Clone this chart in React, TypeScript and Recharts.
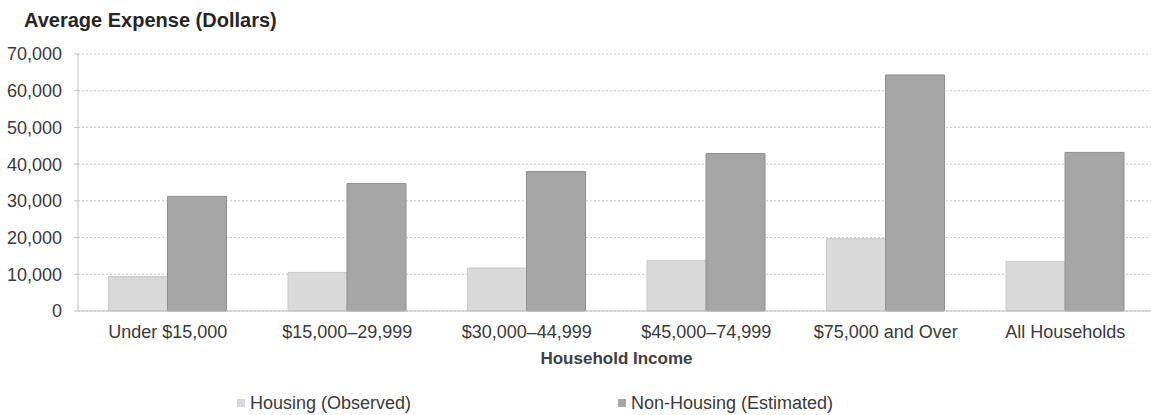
import { BarChart, Bar, XAxis, YAxis, CartesianGrid, Legend } from 'recharts'

const categories = [
  'Under $15,000',
  '$15,000–29,999',
  '$30,000–44,999',
  '$45,000–74,999',
  '$75,000 and Over',
  'All Households',
]
const housing = [9400, 10500, 11700, 13800, 19700, 13500]
const nonHousing = [31200, 34700, 38000, 42900, 64300, 43200]
const yTicks = [0, 10000, 20000, 30000, 40000, 50000, 60000, 70000]

const FONT = '"Liberation Sans", Arial, sans-serif'
const TEXT = '#3a3a3a'
const HOUSING_FILL = '#d9d9d9'
const NON_HOUSING_FILL = '#a6a6a6'

const data = categories.map((name, i) => ({
  name,
  housing: housing[i],
  nonHousing: nonHousing[i],
}))

const legendItems = [
  { label: 'Housing (Observed)', color: HOUSING_FILL, left: 237 },
  { label: 'Non-Housing (Estimated)', color: NON_HOUSING_FILL, left: 618 },
]

function LegendContent() {
  return (
    <div style={{ position: 'relative', height: 24, fontFamily: FONT, fontSize: 18, color: TEXT }}>
      {legendItems.map((item) => (
        <div
          key={item.label}
          style={{ position: 'absolute', left: item.left, top: 0, height: 24, display: 'flex', alignItems: 'center' }}
        >
          <span style={{ width: 8, height: 8, background: item.color, marginRight: 5, display: 'inline-block' }} />
          <span>{item.label}</span>
        </div>
      ))}
    </div>
  )
}

export default function App() {
  return (
    <div style={{ position: 'absolute', left: 0, top: 0, width: 1151, height: 415, overflow: 'hidden', background: '#fff' }}>
      <div
        style={{
          position: 'absolute',
          left: 24,
          top: 9,
          fontFamily: FONT,
          fontWeight: 'bold',
          fontSize: 20,
          lineHeight: '22px',
          color: '#262626',
          zIndex: 1,
        }}
      >
        Average Expense (Dollars)
      </div>
      <BarChart
        width={1155}
        height={415}
        data={data}
        margin={{ top: 54, right: 0, bottom: 0, left: 0 }}
        barCategoryGap="17%"
        barGap={0}
      >
        <CartesianGrid vertical={false} stroke="#c9c9c9" strokeDasharray="2 2" />
        <XAxis
          dataKey="name"
          height={80}
          tickLine={false}
          tickMargin={14}
          tickSize={0}
          axisLine={{ stroke: '#bfbfbf' }}
          tick={{ fill: TEXT, fontSize: 18, fontFamily: FONT }}
          interval={0}
          label={{
            value: 'Household Income',
            position: 'insideBottom',
            offset: 27,
            fill: '#404040',
            fontSize: 17,
            fontWeight: 'bold',
            fontFamily: FONT,
          }}
        />
        <YAxis
          width={78}
          domain={[0, 70000]}
          ticks={yTicks}
          tickSize={4}
          tickMargin={12}
          tickLine={{ stroke: '#bfbfbf' }}
          axisLine={{ stroke: '#bfbfbf' }}
          tick={{ fill: TEXT, fontSize: 18, fontFamily: FONT }}
          tickFormatter={(v: number) => v.toLocaleString('en-US')}
        />
        <Legend verticalAlign="bottom" height={24} content={<LegendContent />} />
        <Bar
          dataKey="housing"
          name="Housing (Observed)"
          fill={HOUSING_FILL}
          stroke="#cbcbcb"
          isAnimationActive={false}
        />
        <Bar
          dataKey="nonHousing"
          name="Non-Housing (Estimated)"
          fill={NON_HOUSING_FILL}
          stroke="#909090"
          isAnimationActive={false}
        />
      </BarChart>
    </div>
  )
}
